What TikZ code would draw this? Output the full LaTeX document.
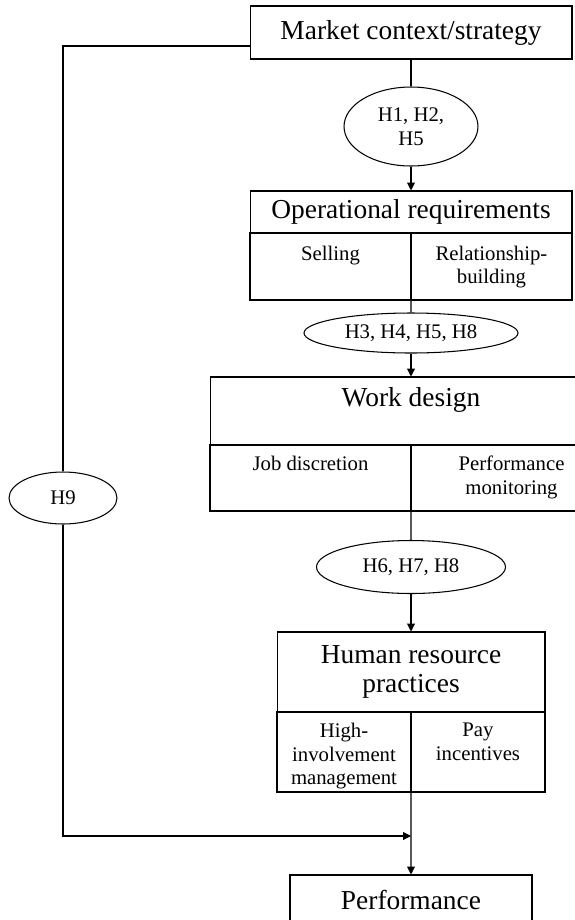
\documentclass[tikz,border=0pt]{standalone}
\usepackage{fontspec}
\setmainfont{Liberation Serif}
\usepackage{tikz}
\usetikzlibrary{calc,positioning,shapes.geometric,arrows.meta}

\begin{document}
\begin{tikzpicture}[x=0.02cm,y=-0.02cm,line width=0.6pt,
    >={Triangle[length=4.5pt,width=4.5pt]},
    big/.style={font=\fontsize{15.6}{17}\selectfont},
    small/.style={font=\fontsize{11.8}{13.4}\selectfont},
    box/.style={draw,rectangle,inner sep=0pt,big,align=center},
    cell/.style={draw,rectangle,inner sep=0pt,outer sep=0pt},
    celltxt/.style={anchor=north,inner sep=0pt,yshift=-7pt,small,align=center},
    hyp/.style={draw,ellipse,inner sep=0pt,align=center,
      font=\fontsize{11.8}{13.6}\selectfont}]
  \useasboundingbox (0,0) rectangle (575,920);
  \clip (0,0) rectangle (575,920);
  \node [box,minimum width=6.44cm,minimum height=1.06cm] (mkt) at (411,32.5) {Market context/strategy};
  \node [hyp,minimum width=2.68cm,minimum height=1.58cm] (e1) at (411,126.5) {H1, H2,\\H5};
  \node [box,minimum width=6.44cm,minimum height=0.84cm] (ops) at (411,212) {Operational requirements};
  \node [cell,minimum width=3.22cm,minimum height=1.34cm,
    label={[celltxt]north:Selling}] (sell) at (330.5,266.5) {};
  \node [cell,minimum width=3.22cm,minimum height=1.34cm,
    label={[celltxt]north:Relationship-\\building}] (rel) at (491.5,266.5) {};
  \node [hyp,minimum width=4.28cm,minimum height=0.80cm] (e2) at (411,333) {H3, H4, H5, H8};
  \node [box,minimum width=8.04cm,minimum height=1.36cm,text depth=0.56cm] (work) at (411,411) {Work design};
  \node [cell,minimum width=4.02cm,minimum height=1.32cm,
    label={[celltxt,yshift=1pt]north:Job discretion}] (jobd) at (310.5,478) {};
  \node [cell,minimum width=4.02cm,minimum height=1.32cm,
    label={[celltxt,yshift=1pt]north:Performance\\monitoring}] (mon) at (511.5,478) {};
  \node [hyp,minimum width=3.78cm,minimum height=1.06cm] (e3) at (411,567) {H6, H7, H8};
  \node [box,minimum width=5.36cm,minimum height=1.60cm] (hrm) at (411,672) {Human resource\\practices};
  \node [cell,minimum width=2.68cm,minimum height=1.60cm,
    label={[celltxt,yshift=1pt]north:High-\\involvement\\management}] (hil) at (344,752) {};
  \node [cell,minimum width=2.68cm,minimum height=1.60cm,
    label={[celltxt,yshift=1pt]north:Pay\\incentives}] (pay) at (478,752) {};
  \node [box,minimum width=4.84cm,minimum height=1.00cm] (perf) at (411,900) {Performance};
  \node [hyp,minimum width=2.16cm,minimum height=1.04cm] (h9) at (63,498) {H9};
  \coordinate (bend) at (63,46);
  \coordinate (join) at (411,836);
  \draw (mkt) -- (e1);
  \draw [->] (e1) -- (ops);
  \draw (sell.south east) -- (e2);
  \draw [->] (e2) -- (work);
  \draw (jobd.south east) -- (e3);
  \draw [->] (e3) -- (hrm);
  \draw [->] (hil.south east) -- (perf);
  \draw (mkt.west |- bend) -- (bend) -- (h9);
  \draw [->] (h9) |- (join);
\end{tikzpicture}
\end{document}
